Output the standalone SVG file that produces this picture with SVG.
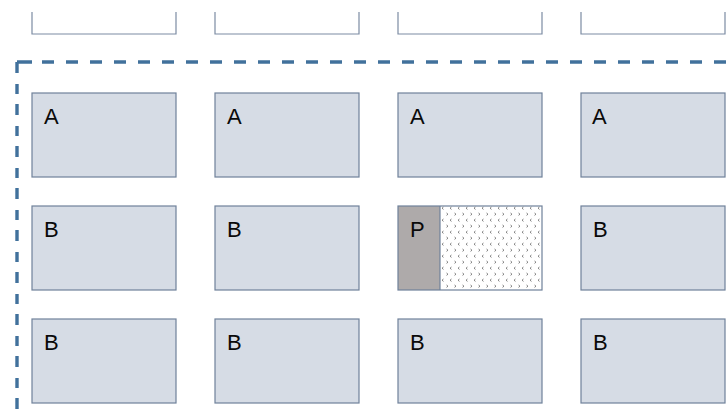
<svg xmlns="http://www.w3.org/2000/svg" width="727" height="418" viewBox="0 0 727 418">
<style>
.box{fill:#d6dce5;stroke:#6f819a;stroke-width:1.2}
.top{fill:#ffffff;stroke:#7c8ca3;stroke-width:1.2}
.lbl{font-family:"Liberation Sans",Arial,sans-serif;font-size:22px;fill:#0a0a0a}
.dash{fill:none;stroke:#41719c;stroke-width:3.4}
</style>
<defs>
<pattern id="dots" x="440" y="206" width="8" height="12" patternUnits="userSpaceOnUse">
<rect width="8" height="12" fill="#ffffff"/>
<path d="M3.5,1 L2,2.2 L3.5,3.4 M6.5,7 L8,8.2 L6.5,9.4 M-1.5,7 L0,8.2 L-1.5,9.4" fill="none" stroke="#666" stroke-width="0.8"/>
</pattern>
</defs>
<rect width="727" height="418" fill="#ffffff"/>
<g id="frame">
<line class="dash" x1="17" y1="62" x2="727" y2="62" stroke-dasharray="15 10 12 12 12 12 12 12 12 12 12 12 12 12 12 12 12 12 12 12 12 12 12 12 12 12 12 12 12 12 12 12 12 12 12 12 12 12 12 12 12 12 12 12 12 12 12 12 12 12 12 12 12 12 12 12 12 12 12 12 12 12 12 12 12 12"/>
<line class="dash" x1="17" y1="62" x2="17" y2="418" stroke-dasharray="11 11 10 10"/>
</g>
<g id="top-row">
<path class="top" d="M32,12 V34 H176 V12"/>
<path class="top" d="M215,12 V34 H359 V12"/>
<path class="top" d="M398,12 V34 H542 V12"/>
<path class="top" d="M581,12 V34 H725 V12"/>
</g>
<g id="a1"><rect class="box" x="32" y="93" width="144" height="84"/><text class="lbl" x="44" y="124">A</text></g>
<g id="a2"><rect class="box" x="215" y="93" width="144" height="84"/><text class="lbl" x="227" y="124">A</text></g>
<g id="a3"><rect class="box" x="398" y="93" width="144" height="84"/><text class="lbl" x="410" y="124">A</text></g>
<g id="a4"><rect class="box" x="581" y="93" width="144" height="84"/><text class="lbl" x="592" y="124">A</text></g>
<g id="b1"><rect class="box" x="32" y="206" width="144" height="84"/><text class="lbl" x="44" y="237">B</text></g>
<g id="b2"><rect class="box" x="215" y="206" width="144" height="84"/><text class="lbl" x="227" y="237">B</text></g>
<g id="p">
<rect x="440" y="206" width="102" height="84" fill="url(#dots)"/>
<rect x="398" y="206" width="42" height="84" fill="#aeaaaa"/>
<line x1="440" y1="206" x2="440" y2="290" stroke="#6f819a" stroke-width="1.2"/>
<rect x="398" y="206" width="144" height="84" fill="none" stroke="#6f819a" stroke-width="1.2"/>
<text class="lbl" x="410" y="237">P</text>
</g>
<g id="b4"><rect class="box" x="581" y="206" width="144" height="84"/><text class="lbl" x="593" y="237">B</text></g>
<g id="b5"><rect class="box" x="32" y="319" width="144" height="84"/><text class="lbl" x="44" y="350">B</text></g>
<g id="b6"><rect class="box" x="215" y="319" width="144" height="84"/><text class="lbl" x="227" y="350">B</text></g>
<g id="b7"><rect class="box" x="398" y="319" width="144" height="84"/><text class="lbl" x="410" y="350">B</text></g>
<g id="b8"><rect class="box" x="581" y="319" width="144" height="84"/><text class="lbl" x="593" y="350">B</text></g>
</svg>
